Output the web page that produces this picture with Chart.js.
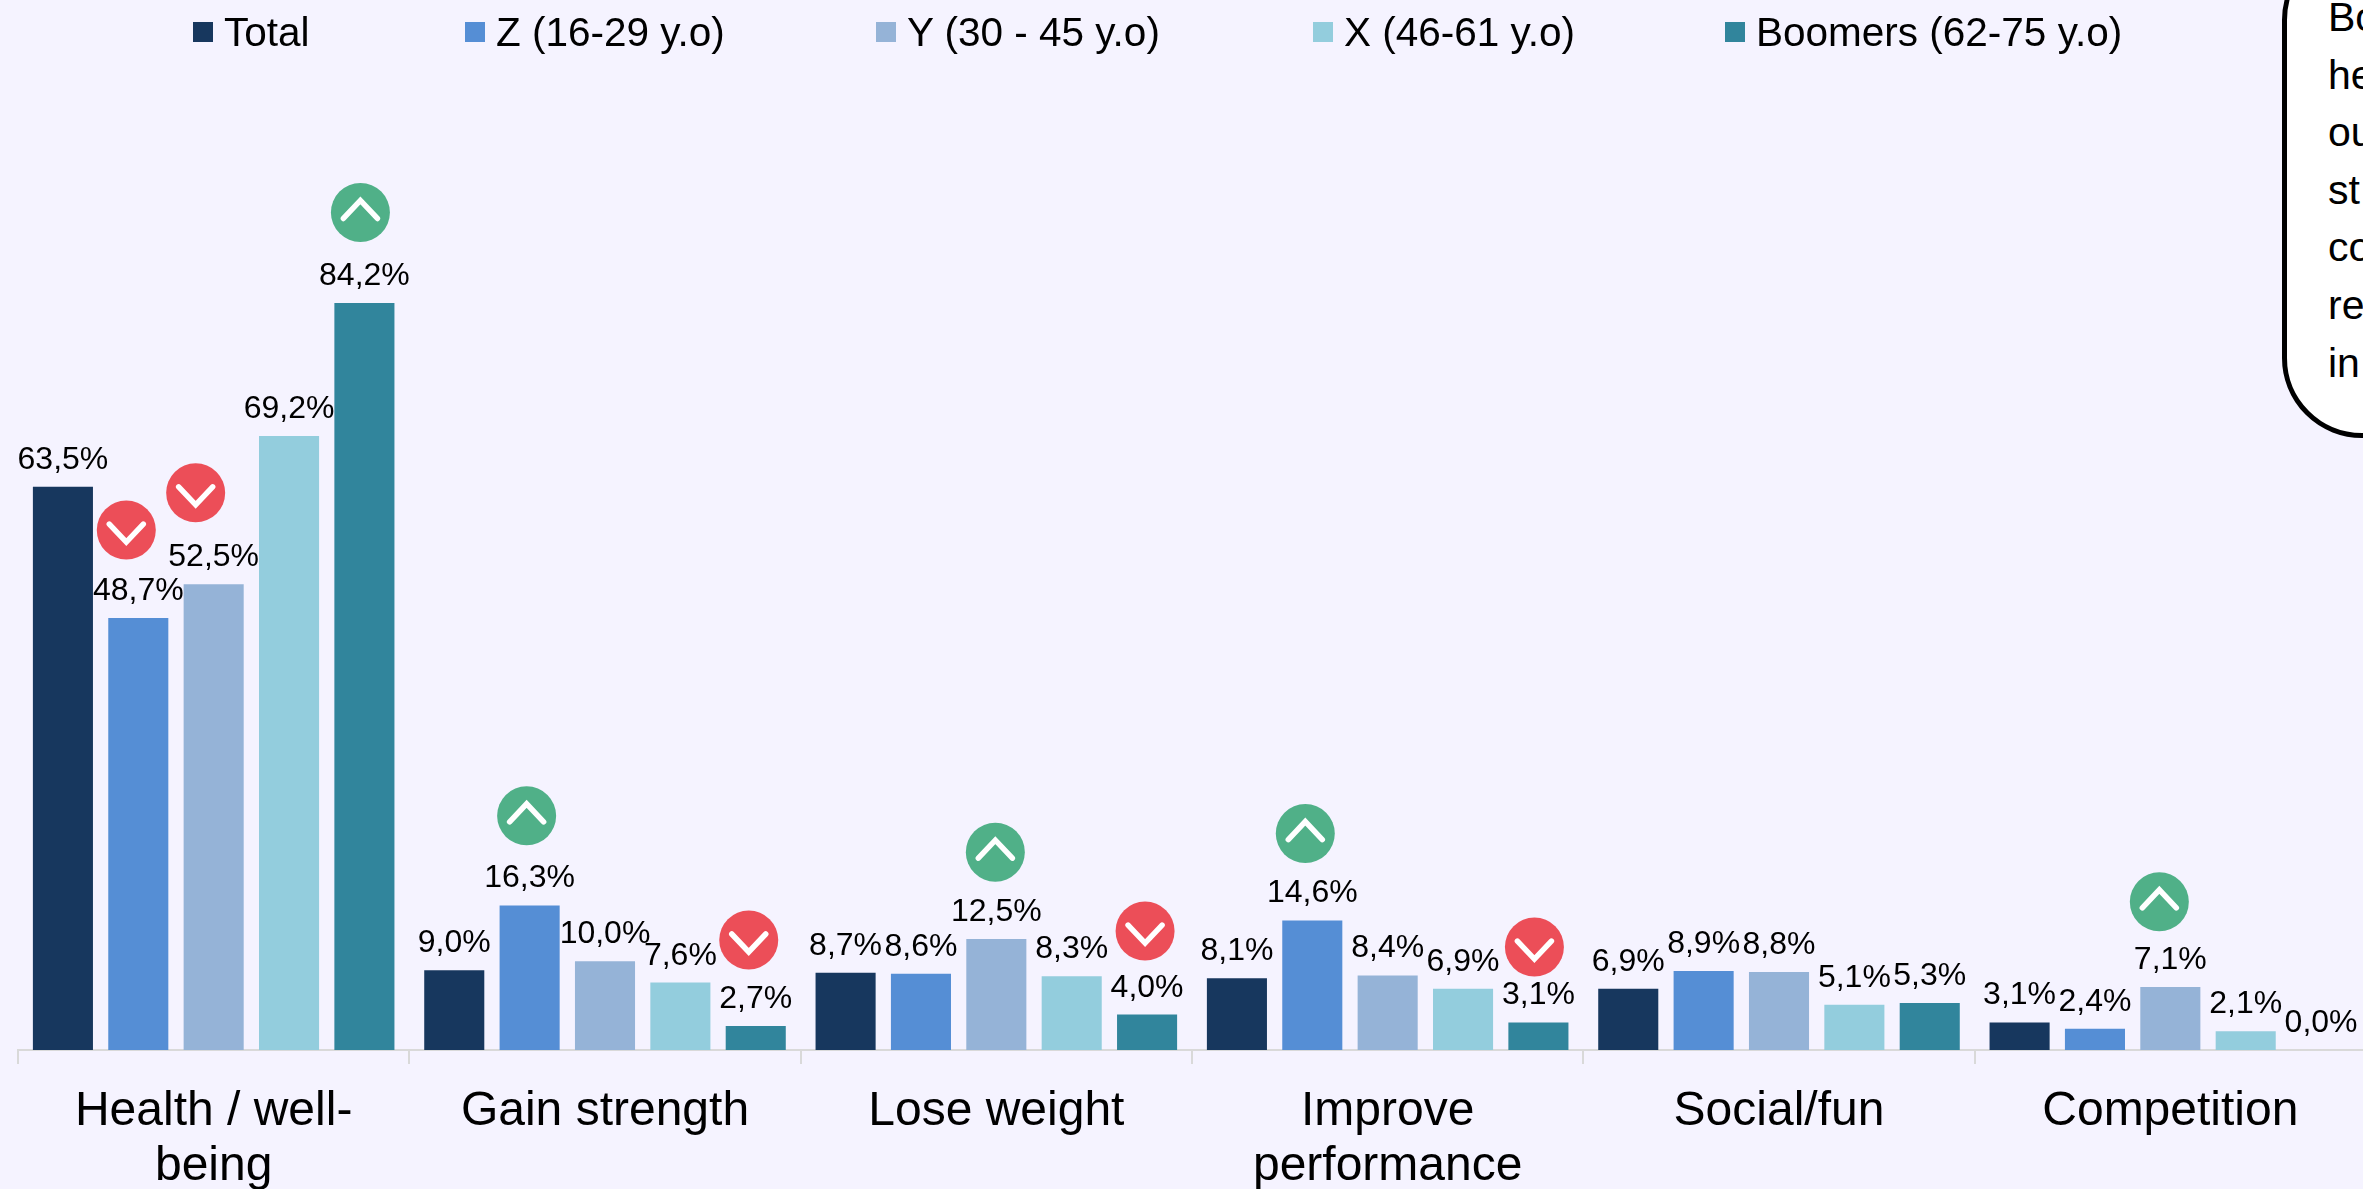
<!DOCTYPE html>
<html>
<head>
<meta charset="utf-8">
<title>Motivation by generation</title>
<script src="https://cdn.jsdelivr.net/npm/chart.js@4"></script>
<style>
  html, body { margin: 0; height: 100%; overflow: hidden; background: #F5F3FF; }
  body { position: relative; font-family: "Liberation Sans", Arial, sans-serif; color: #000; }
  #sports-motives { position: absolute; left: 0; top: 0; }
  #legend span { position: absolute; top: 9px; display: flex; align-items: center; font-size: 40.5px; line-height: 46px; white-space: nowrap; }
  #legend i { width: 20px; height: 20px; margin-right: 11px; }
  #callout { position: absolute; left: 2282px; top: -60px; width: 200px; height: 498px; box-sizing: border-box; background: #fff; border: 5px solid #000; border-radius: 80px; }
  #callout div { position: absolute; left: 41px; top: 44px; font-size: 41px; line-height: 57.6px; white-space: pre; }
</style>
</head>
<body>
<canvas id="sports-motives" width="2366" height="1189"></canvas>
<div id="legend"></div>
<div id="callout"><div id="callout-text"></div></div>
<script>
var categories = [["Health / well-", "being"], "Gain strength", "Lose weight", ["Improve", "performance"], "Social/fun", "Competition"];
var seriesNames = ["Total", "Z (16-29 y.o)", "Y (30 - 45 y.o)", "X (46-61 y.o)", "Boomers (62-75 y.o)"];
var seriesColors = ["#17375E", "#558ED5", "#95B3D7", "#93CDDD", "#31859C"];

var total = [63.5, 9.0, 8.7, 8.1, 6.9, 3.1];
var genZ = [48.7, 16.3, 8.6, 14.6, 8.9, 2.4];
var genY = [52.5, 10.0, 12.5, 8.4, 8.8, 7.1];
var genX = [69.2, 7.6, 8.3, 6.9, 5.1, 2.1];
var boomers = [84.2, 2.7, 4.0, 3.1, 5.3, 0.0];
var seriesValues = [total, genZ, genY, genX, boomers];

// the up / down badges: which bar they belong to and how high they sit on the value scale
var badgeCategory = [0, 0, 0, 1, 1, 2, 2, 3, 3, 5];
var badgeSeries = [1, 2, 4, 1, 4, 2, 4, 1, 4, 2];
var badgeLevel = [58.6, 62.8, 94.4, 26.4, 12.4, 22.3, 13.4, 24.4, 11.6, 16.7];
var badgeShift = [-12, -18, -4, -3, -7, -1, -2, -7, -4, -11];
var badgeUp = [false, false, true, true, false, true, false, true, false, true];

var calloutLines = ["Bo", "he", "ou", "st", "co", "re", "in"];

// legend is plain html, the gaps in the reference don't fit the built in one
var legendLeft = [193, 465, 876, 1313, 1725];
var legend = document.getElementById("legend");
seriesNames.forEach(function(name, i) {
    var item = document.createElement("span");
    var box = document.createElement("i");
    box.style.background = seriesColors[i];
    item.style.left = legendLeft[i] + "px";
    item.appendChild(box);
    item.appendChild(document.createTextNode(name));
    legend.appendChild(item);
});
document.getElementById("callout-text").textContent = calloutLines.join("\n");

var valueLabels = {
    id: "valueLabels",
    afterDatasetsDraw: function(chart) {
        var ctx = chart.ctx;
        ctx.save();
        ctx.font = '32px "Liberation Sans"';
        ctx.fillStyle = "#000";
        ctx.textAlign = "center";
        ctx.textBaseline = "alphabetic";
        chart.data.datasets.forEach(function(dataset, d) {
            chart.getDatasetMeta(d).data.forEach(function(bar, i) {
                ctx.fillText(dataset.data[i].toFixed(1).replace(".", ",") + "%", bar.x, bar.y - 18);
            });
        });
        ctx.restore();
    }
};

var badges = {
    id: "badges",
    afterDatasetsDraw: function(chart) {
        var ctx = chart.ctx;
        ctx.save();
        badgeLevel.forEach(function(level, i) {
            var bar = chart.getDatasetMeta(badgeSeries[i]).data[badgeCategory[i]];
            var x = bar.x + badgeShift[i];
            var y = chart.scales.y.getPixelForValue(level);
            var flip = badgeUp[i] ? 1 : -1;
            ctx.beginPath();
            ctx.arc(x, y, 29.5, 0, Math.PI * 2);
            ctx.fillStyle = badgeUp[i] ? "#50B088" : "#EC4E58";
            ctx.fill();
            ctx.beginPath();
            ctx.moveTo(x - 17, y + 6 * flip);
            ctx.lineTo(x, y - 12 * flip);
            ctx.lineTo(x + 17, y + 6 * flip);
            ctx.strokeStyle = "#fff";
            ctx.lineWidth = 5.5;
            ctx.lineCap = "round";
            ctx.stroke();
        });
        ctx.restore();
    }
};

var ctx = document.getElementById("sports-motives").getContext("2d");
var chart = new Chart(ctx, {
    type: "bar",
    data: {
        labels: categories,
        datasets: seriesNames.map(function(name, i) {
            return {
                label: name,
                data: seriesValues[i],
                backgroundColor: seriesColors[i],
                categoryPercentage: 0.963,
                barPercentage: 0.797
            };
        })
    },
    options: {
        responsive: false,
        animation: false,
        layout: { padding: { left: 18, top: 0, right: 0, bottom: 0 } },
        plugins: {
            legend: { display: false },
            tooltip: { enabled: false }
        },
        scales: {
            x: {
                afterFit: function(scale) { scale.height = 139; },
                border: { color: "#D9D9D9", width: 2 },
                grid: { drawOnChartArea: false, color: "#D9D9D9", lineWidth: 2, tickLength: 14 },
                ticks: {
                    autoSkip: false,
                    maxRotation: 0,
                    color: "#000",
                    padding: 20,
                    font: { family: '"Liberation Sans"', size: 48, lineHeight: 1.15 }
                }
            },
            y: {
                display: false,
                min: 0,
                max: 118.35
            }
        }
    },
    plugins: [valueLabels, badges]
});
</script>
</body>
</html>
